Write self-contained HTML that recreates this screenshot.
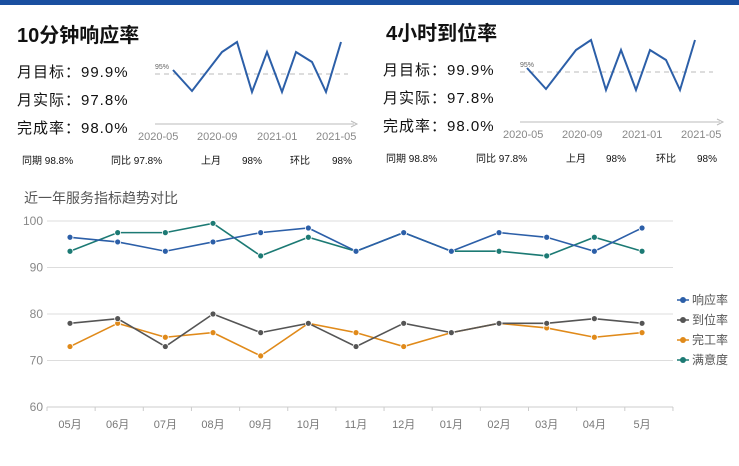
<!DOCTYPE html>
<html><head><meta charset="utf-8"><style>
body{margin:0;width:739px;height:461px;background:#fff;overflow:hidden;font-family:"Liberation Sans","Noto Sans CJK SC",sans-serif}
</style></head><body>
<svg width="739" height="461" xmlns="http://www.w3.org/2000/svg" font-family="Liberation Sans, Noto Sans CJK SC, sans-serif">
<rect x="0" y="0" width="739" height="5" fill="#1a4fa0"/>
<g>
<text x="17" y="42" font-size="20" font-weight="bold" fill="#111">10分钟响应率</text>
<text x="17" y="77" font-size="15" fill="#111" letter-spacing="1">月目标：99.9%</text>
<text x="17" y="105" font-size="15" fill="#111" letter-spacing="1">月实际：97.8%</text>
<text x="17" y="133" font-size="15" fill="#111" letter-spacing="1">完成率：98.0%</text>
<text x="22" y="164" font-size="10" fill="#111">同期  98.8%</text>
<text x="111" y="164" font-size="10" fill="#111">同比  97.8%</text>
<text x="201" y="164" font-size="10" fill="#111">上月</text><text x="242" y="164" font-size="10" fill="#111">98%</text>
<text x="290" y="164" font-size="10" fill="#111">环比</text><text x="332" y="164" font-size="10" fill="#111">98%</text>
<line x1="155" y1="74" x2="348" y2="74" stroke="#bbb" stroke-dasharray="5,4"/>
<text x="155" y="69" font-size="7" fill="#666">95%</text>
<polyline fill="none" stroke="#2c5fa8" stroke-width="2" points="173,70 192,91 222,52 237,42 252,92 267,52 282,92 296,52 312,62 326,92 341,42"/>
<line x1="155" y1="124" x2="354" y2="124" stroke="#bbb"/><path d="M351,121 L357,124 L351,127" fill="none" stroke="#bbb"/>
<text x="138" y="140" font-size="11" fill="#888">2020-05</text><text x="197" y="140" font-size="11" fill="#888">2020-09</text>
<text x="257" y="140" font-size="11" fill="#888">2021-01</text><text x="316" y="140" font-size="11" fill="#888">2021-05</text>
</g>
<g>
<text x="386" y="40" font-size="20" font-weight="bold" fill="#111">4小时到位率</text>
<text x="383" y="75" font-size="15" fill="#111" letter-spacing="1">月目标：99.9%</text>
<text x="383" y="103" font-size="15" fill="#111" letter-spacing="1">月实际：97.8%</text>
<text x="383" y="131" font-size="15" fill="#111" letter-spacing="1">完成率：98.0%</text>
<text x="386" y="162" font-size="10" fill="#111">同期  98.8%</text>
<text x="476" y="162" font-size="10" fill="#111">同比  97.8%</text>
<text x="566" y="162" font-size="10" fill="#111">上月</text><text x="606" y="162" font-size="10" fill="#111">98%</text>
<text x="656" y="162" font-size="10" fill="#111">环比</text><text x="697" y="162" font-size="10" fill="#111">98%</text>
<line x1="520" y1="72" x2="713" y2="72" stroke="#bbb" stroke-dasharray="5,4"/>
<text x="520" y="67" font-size="7" fill="#666">95%</text>
<polyline fill="none" stroke="#2c5fa8" stroke-width="2" points="527,68 546,89 576,50 591,40 606,90 621,50 636,90 650,50 666,60 680,90 695,40"/>
<line x1="520" y1="122" x2="720" y2="122" stroke="#bbb"/><path d="M717,119 L723,122 L717,125" fill="none" stroke="#bbb"/>
<text x="503" y="138" font-size="11" fill="#888">2020-05</text><text x="562" y="138" font-size="11" fill="#888">2020-09</text>
<text x="622" y="138" font-size="11" fill="#888">2021-01</text><text x="681" y="138" font-size="11" fill="#888">2021-05</text>
</g>
<text x="24" y="203" font-size="14" fill="#555">近一年服务指标趋势对比</text>
<g id="chart"></g>
</svg>
<script>
var NS="http://www.w3.org/2000/svg",g=document.getElementById("chart");
function el(t,a,txt){var e=document.createElementNS(NS,t);for(var k in a)e.setAttribute(k,a[k]);if(txt)e.textContent=txt;g.appendChild(e);return e;}
function Y(v){return 407-(v-60)*4.65;}function X(i){return 70+i*47.67;}
[60,70,80,90,100].forEach(function(v){el("line",{x1:47,x2:673,y1:Y(v),y2:Y(v),stroke:"#ddd","stroke-width":v==60?1.5:1});el("text",{x:43,y:Y(v)+4,"font-size":12,fill:"#888","text-anchor":"end"},""+v);});
for(var i=0;i<=13;i++)el("line",{x1:47+i*48.15,x2:47+i*48.15,y1:407,y2:411,stroke:"#ccc"});
var m=["05月","06月","07月","08月","09月","10月","11月","12月","01月","02月","03月","04月","5月"];
m.forEach(function(t,i){el("text",{x:X(i),y:428,"font-size":11,fill:"#777","text-anchor":"middle"},t);});
var S=[["#e08a1a",[73,78,75,76,71,78,76,73,76,78,77,75,76]],["#555",[78,79,73,80,76,78,73,78,76,78,78,79,78]],
["#1c7a74",[93.5,97.5,97.5,99.5,92.5,96.5,93.5,97.5,93.5,93.5,92.5,96.5,93.5]],["#2c5fa8",[96.5,95.5,93.5,95.5,97.5,98.5,93.5,97.5,93.5,97.5,96.5,93.5,98.5]]];
S.forEach(function(s){el("polyline",{fill:"none",stroke:s[0],"stroke-width":1.6,points:s[1].map(function(v,i){return X(i)+","+Y(v)}).join(" ")});
s[1].forEach(function(v,i){el("circle",{cx:X(i),cy:Y(v),r:3,fill:s[0],stroke:"#fff","stroke-width":0.8});});});
var L=[["响应率","#2c5fa8"],["到位率","#555"],["完工率","#e08a1a"],["满意度","#1c7a74"]];
L.forEach(function(l,i){var y=300+i*20;el("line",{x1:677,x2:689,y1:y,y2:y,stroke:l[1],"stroke-width":1.5});el("circle",{cx:683,cy:y,r:3,fill:l[1]});el("text",{x:692,y:y+4,"font-size":12,fill:"#555"},l[0]);});
</script>
</body></html>
